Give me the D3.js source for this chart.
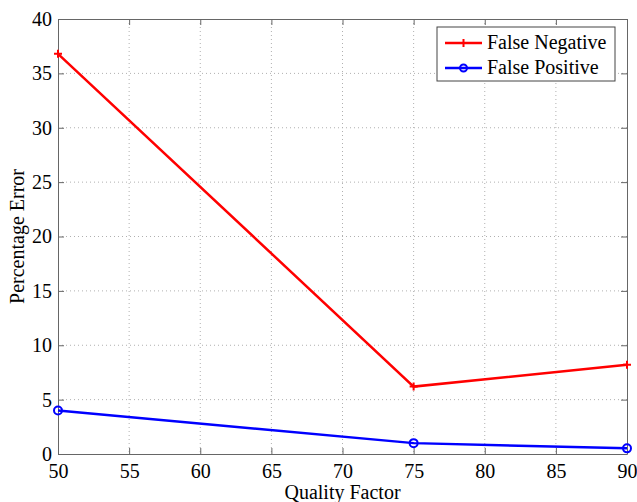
<!DOCTYPE html>
<html>
<head>
<meta charset="utf-8">
<script src="https://cdn.jsdelivr.net/npm/d3@7"></script>
<style>
  body { margin: 0; background: #fff; }
  text { font-family: "Liberation Serif", "Times New Roman", serif; }
</style>
</head>
<body>
<script>
const qualityFactor = [50, 75, 90];
const falseNegative = [36.8, 6.2, 8.2];
const falsePositive = [4.0, 1.0, 0.52];
const xTicks = [50, 55, 60, 65, 70, 75, 80, 85, 90];
const yTicks = [0, 5, 10, 15, 20, 25, 30, 35, 40];
const seriesNames = ['False Negative', 'False Positive'];

const width = 637;
const height = 502;
const margin = { top: 19, right: 10, bottom: 48, left: 58 };
const innerW = width - margin.left - margin.right;
const innerH = height - margin.top - margin.bottom;

const svg = d3.select('body').append('svg').attr('width', width).attr('height', height);
const g = svg.append('g').attr('transform', `translate(${margin.left},${margin.top})`);

const x = d3.scaleLinear().domain([50, 90]).range([0, innerW]);
const y = d3.scaleLinear().domain([0, 40]).range([innerH, 0]);

// grid
g.append('g').selectAll('line').data(xTicks.slice(1, -1)).enter().append('line')
  .attr('x1', d => x(d)).attr('x2', d => x(d)).attr('y1', 0).attr('y2', innerH)
  .attr('stroke', '#b0b0b0').attr('stroke-dasharray', '1,3');
g.append('g').selectAll('line').data(yTicks.slice(1, -1)).enter().append('line')
  .attr('y1', d => y(d)).attr('y2', d => y(d)).attr('x1', 0).attr('x2', innerW)
  .attr('stroke', '#b0b0b0').attr('stroke-dasharray', '1,3');

// axes (ticks inward, box on all sides)
const axisStyle = sel => {
  sel.select('.domain').attr('stroke', '#666');
  sel.selectAll('.tick line').attr('stroke', '#666');
  sel.selectAll('text').attr('font-size', 20).attr('fill', '#000')
    .style('font-family', '"Liberation Serif", serif');
};
g.append('g').attr('transform', `translate(0,${innerH})`)
  .call(d3.axisBottom(x).tickValues(xTicks).tickSizeInner(-6).tickSizeOuter(0).tickPadding(10))
  .call(axisStyle);
g.append('g')
  .call(d3.axisLeft(y).tickValues(yTicks).tickSizeInner(-6).tickSizeOuter(0).tickPadding(6))
  .call(axisStyle);
g.append('g')
  .call(d3.axisTop(x).tickValues(xTicks).tickSizeInner(-6).tickSizeOuter(0).tickFormat(''))
  .call(axisStyle);
g.append('g').attr('transform', `translate(${innerW},0)`)
  .call(d3.axisRight(y).tickValues(yTicks).tickSizeInner(-6).tickSizeOuter(0).tickFormat(''))
  .call(axisStyle);

// lines
const line = vals => d3.line().x((d, i) => x(qualityFactor[i])).y(d => y(d))(vals);
g.append('path').attr('d', line(falseNegative)).attr('fill', 'none')
  .attr('stroke', '#ff0000').attr('stroke-width', 2.5);
g.append('path').attr('d', line(falsePositive)).attr('fill', 'none')
  .attr('stroke', '#0000ff').attr('stroke-width', 2.5);

const plus = (sel, cx, cy) => sel.append('path')
  .attr('d', `M${cx - 4},${cy}H${cx + 4}M${cx},${cy - 4}V${cy + 4}`)
  .attr('stroke', '#ff0000').attr('stroke-width', 2);
falseNegative.forEach((v, i) => plus(g, x(qualityFactor[i]), y(v)));
g.selectAll('circle.fp').data(falsePositive).enter().append('circle')
  .attr('cx', (d, i) => x(qualityFactor[i])).attr('cy', d => y(d)).attr('r', 4)
  .attr('fill', 'none').attr('stroke', '#0000ff').attr('stroke-width', 2);

// axis labels
svg.append('text').attr('x', margin.left + innerW / 2).attr('y', 499)
  .attr('text-anchor', 'middle').attr('font-size', 20).text('Quality Factor');
svg.append('text').attr('transform', `translate(24,${margin.top + innerH / 2}) rotate(-90)`)
  .attr('text-anchor', 'middle').attr('font-size', 20).text('Percentage Error');

// legend
const lg = svg.append('g').attr('transform', 'translate(437,27)');
lg.append('rect').attr('width', 178).attr('height', 54).attr('fill', '#fff').attr('stroke', '#444');
const colors = ['#ff0000', '#0000ff'];
seriesNames.forEach((name, i) => {
  const yy = 16 + i * 25;
  lg.append('line').attr('x1', 8).attr('x2', 45).attr('y1', yy).attr('y2', yy)
    .attr('stroke', colors[i]).attr('stroke-width', 2.5);
  if (i === 0) plus(lg, 26.5, yy);
  else lg.append('circle').attr('cx', 26.5).attr('cy', yy).attr('r', 3.5)
    .attr('fill', 'none').attr('stroke', colors[i]).attr('stroke-width', 2);
  lg.append('text').attr('x', 50).attr('y', yy + 6).attr('font-size', 20).text(name);
});
</script>
</body>
</html>
